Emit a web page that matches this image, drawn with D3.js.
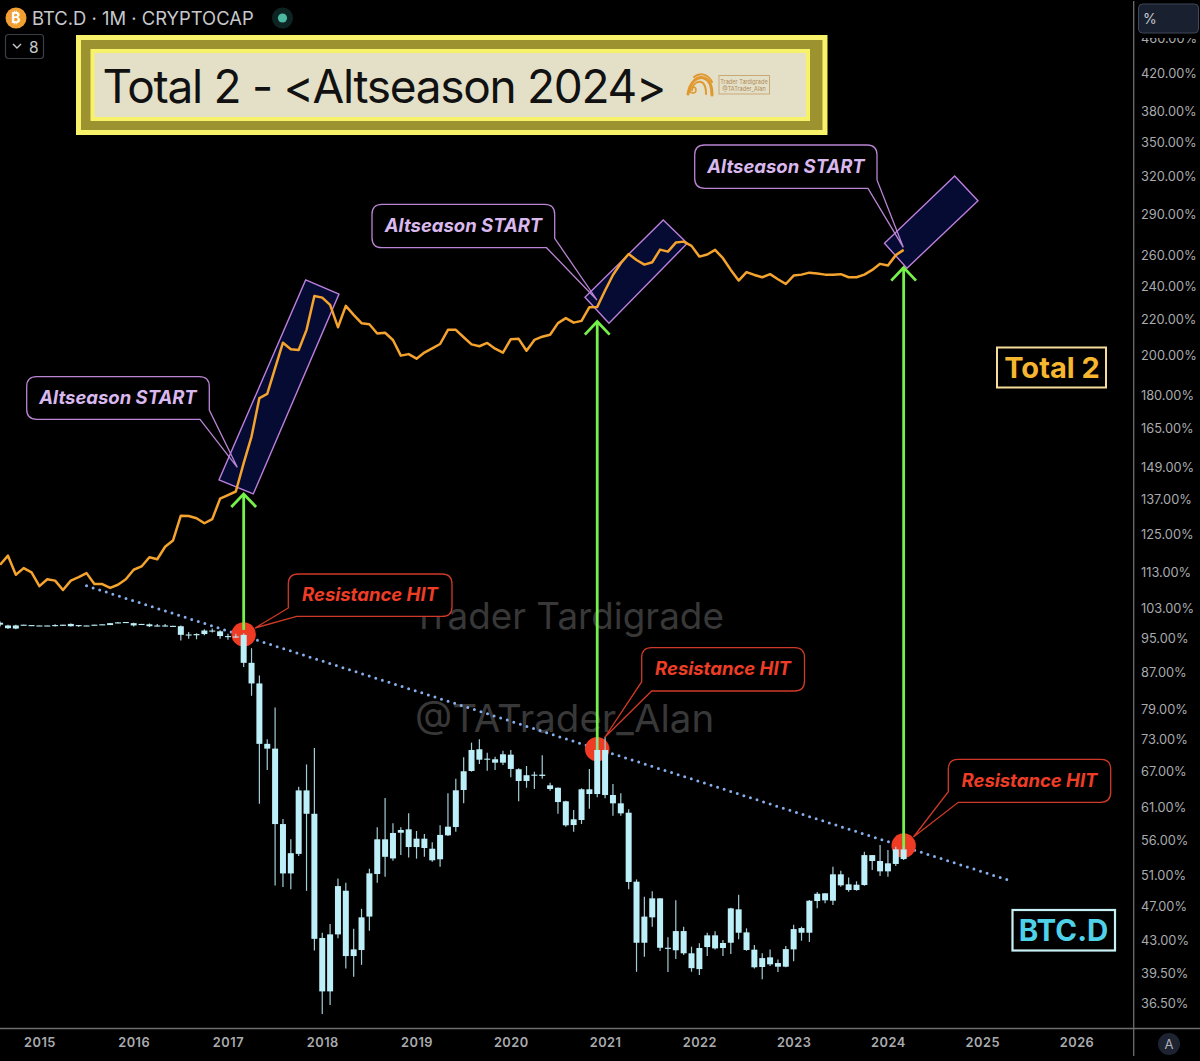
<!DOCTYPE html>
<html><head><meta charset="utf-8">
<script src="https://cdn.jsdelivr.net/npm/d3@7/dist/d3.min.js"></script>
<style>html,body{margin:0;padding:0;background:#000;overflow:hidden}svg{display:block}text{font-family:Inter,"Noto Sans",sans-serif}</style>
</head><body><svg id="c" width="1200" height="1061"></svg>
<script>
// month number: 0 = Jan 2015; first sample is Aug 2014
const firstMonth = -5;
const btcOpen = [98.6,98.4,98.4,98.6,98.5,98.4,98.4,98.5,98.3,98.8,98.5,98.4,98.4,98.6,98.5,99.2,99.2,99.0,98.8,98.7,98.4,98.4,98.3,98.2,96.0,95.9,96.2,97.1,96.9,95.7,95.6,96.0,89.2,84.5,72.1,71.2,58.4,51.3,54.0,63.8,60.0,43.3,37.63,43.71,49.02,41.29,41.95,45.8,51.22,56.11,53.36,57.09,57.6,54.98,56.2,54.74,53.24,56.7,57.95,63.87,67.14,71.08,69.16,69.24,68.62,70.08,67.45,65.4,66.4,66.5,64.66,64.25,62.0,58.25,59.03,63.99,63.2,70.95,63.03,61.67,60.17,50.2,42.76,45.71,48.05,42.2,41.92,44.09,41.59,39.9,42.28,43.6,42.17,42.76,46.68,43.94,41.99,40.12,41.15,40.54,40.15,42.02,43.9,43.9,47.71,48.69,47.75,51.18,49.11,49.11,49.76,53.83,53.0,51.58,52.59,54.65];
const btcHigh = [99.4,98.6,98.6,98.6,98.5,98.4,98.4,98.7,98.6,98.9,98.5,98.4,98.6,98.7,99.0,99.3,99.3,99.1,98.8,98.9,98.8,98.8,98.3,98.4,96.7,96.4,97.4,97.6,97.2,96.3,96.3,96.4,92.7,86.3,73.0,79.3,59.2,56.1,64.4,68.3,71.3,43.9,44.91,50.63,50.06,44.35,46.74,51.92,57.9,62.53,58.52,57.9,60.07,57.35,56.9,55.67,58.21,63.31,65.8,69.6,72.33,72.97,70.45,69.71,70.82,70.95,67.63,68.03,67.02,69.96,65.1,64.3,62.1,60.6,64.15,67.5,73.16,73.47,64.89,63.31,60.7,50.5,48.25,48.95,48.05,43.37,47.8,44.6,42.32,42.7,43.9,44.06,43.07,46.88,48.5,44.41,42.5,41.59,42.02,40.93,42.39,44.82,44.6,47.84,48.85,48.69,52.2,51.66,50.77,50.25,54.3,53.83,55.28,54.55,55.03,55.12];
const btcLow = [98.1,97.5,97.4,98.4,98.4,98.3,98.3,98.1,98.3,98.1,98.0,98.3,98.4,98.6,98.5,99.0,99.2,98.1,98.6,98.0,98.1,98.1,98.2,94.6,95.0,94.9,95.9,96.6,95.0,94.8,95.3,88.2,81.8,61.6,67.3,49.7,49.5,49.2,53.7,49.0,41.9,35.45,36.3,43.28,39.97,39.1,40.35,44.13,50.06,50.85,53.04,53.83,53.5,53.33,53.59,52.9,52.2,56.6,57.25,61.67,67.02,68.38,67.2,67.32,68.2,66.04,62.0,64.25,64.04,65.8,63.75,60.0,58.0,57.25,58.41,60.8,62.65,62.48,59.7,59.7,49.2,39.62,41.21,44.6,41.84,39.6,40.98,41.4,39.62,39.28,41.29,42.02,41.29,41.51,43.15,41.87,39.97,38.84,40.23,39.6,40.09,40.72,42.99,42.84,46.8,47.43,47.22,49.54,48.9,49.02,49.67,51.76,50.95,50.85,52.32,53.14];
const btcClose = [99.1,97.7,97.6,98.4,98.4,98.3,98.3,98.3,98.6,98.2,98.3,98.3,98.6,98.7,99.0,99.1,99.3,98.4,98.6,98.2,98.3,98.3,98.2,96.0,96.1,96.2,97.1,97.0,95.7,95.6,95.5,89.2,84.5,72.1,71.2,58.4,51.3,54.1,63.8,60.0,43.2,37.63,43.71,49.62,41.29,42.02,45.71,51.31,56.11,53.59,57.05,57.5,54.98,56.2,54.84,53.1,56.76,58.0,63.82,67.09,70.95,69.16,69.35,68.62,70.15,67.5,65.4,66.4,66.5,66.27,64.04,61.88,58.21,59.14,63.99,63.2,70.95,63.03,61.67,60.07,50.16,42.76,45.8,48.05,42.2,42.1,44.09,41.59,40.0,42.17,43.6,42.13,42.73,46.8,43.9,41.95,40.09,41.07,40.4,40.15,42.05,44.32,44.44,47.75,48.63,47.8,51.18,49.72,49.85,49.8,53.83,53.0,51.58,52.68,54.65,53.27];
const total2 = [115.4,118.2,112.4,114.4,113.1,109.1,111.1,110.7,108.0,110.7,111.7,112.9,109.7,109.7,108.6,109.5,111.1,113.9,114.9,117.7,117.1,121.0,123.0,131.3,131.2,130.4,128.7,130.1,137.3,138.6,139.9,150.7,161.6,178.8,180.8,193.4,206.8,203.3,202.9,213.9,233.8,232.8,228.4,215.4,227.8,222.5,217.7,217.1,211.9,212.3,208.3,199.9,200.7,198.3,201.5,203.8,206.1,213.9,213.9,209.8,205.9,204.9,206.7,203.6,201.5,208.7,208.9,202.5,208.3,210.1,211.2,217.7,220.6,218.0,219.0,227.0,227.2,237.2,247.1,254.8,261.1,257.0,253.9,255.5,264.1,262.7,269.0,269.7,266.7,259.3,260.7,263.9,258.2,250.4,243.5,248.9,247.1,245.6,247.6,244.3,241.3,246.7,247.3,248.6,248.0,247.3,247.3,247.6,245.6,245.6,247.3,250.4,254.4,253.3,260.3,263.9];
const yearMonths = [0,12,24,36,48,60,72,84,96,108,120,132];
const yearLabels = ["2015","2016","2017","2018","2019","2020","2021","2022","2023","2024","2025","2026"];
const priceTicks = [460,420,380,350,320,290,260,240,220,200,180,165,149,137,125,113,103,95,87,79,73,67,61,56,51,47,43,39.5,36.5];
const trendMonths = [6,123.2];
const trendValues = [109.2,50.45];
const hitMonths = [26,71,110];
const hitValues = [96.1,71.1,55.2];
const arrowTips = [139.0,218.6,251.9];
const arrowEnds = [97.25,70.95,54.7];
const channelMonths = [[33.89,38.13,27.22,22.86],[79.4,82.46,72.49,69.44],[116.49,119.46,110.42,107.56]];
const channelValues = [[243.9,235.0,139.0,144.2],[285.4,268.5,217.7,233.0],[320.5,300.3,251.5,268.5]];

const svg = d3.select("#c");
const x = d3.scaleLinear().domain([0,132]).range([39.4,1076.5]);
const y = d3.scaleLog().domain([36.5,420]).range([1003,73]);
const month = i => firstMonth + i;
const candles = btcOpen.map((o,i)=>({m:month(i),o,h:btcHigh[i],l:btcLow[i],c:btcClose[i]}));

// background watermarks
svg.append("text").attr("x",412).attr("y",629).attr("font-size",36.8).attr("fill","#383838").text("Trader Tardigrade");
svg.append("text").attr("x",415).attr("y",732).attr("font-size",38.5).attr("fill","#383838").text("@TATrader_Alan");

// channels
const channelG = svg.append("g");
channelG.selectAll("polygon").data(channelMonths).join("polygon")
  .attr("points",(d,i)=>d.map((m,j)=>[x(m),y(channelValues[i][j])].join(",")).join(" "))
  .attr("fill","#050b33").attr("stroke","#bd7fdc").attr("stroke-width",1.4);

// Total 2 line
svg.append("path").datum(total2)
  .attr("d",d3.line().x((d,i)=>x(month(i))).y(d=>y(d)))
  .attr("fill","none").attr("stroke","#f4a32e").attr("stroke-width",2.5).attr("stroke-linejoin","round");

// trend line
svg.append("path").datum(trendMonths)
  .attr("d",d3.line().x(d=>x(d)).y((d,i)=>y(trendValues[i])))
  .attr("stroke","#86aeea").attr("stroke-width",3).attr("stroke-dasharray","0 6.9").attr("stroke-linecap","round").attr("fill","none");

// hit circles
svg.selectAll("circle.hit").data(hitMonths).join("circle").attr("class","hit")
  .attr("cx",d=>x(d)).attr("cy",(d,i)=>y(hitValues[i])).attr("r",12.2).attr("fill","#ef3b24");

// green arrows
const arrows = svg.append("g").attr("stroke","#76f04a").attr("stroke-width",2.8).attr("fill","none");
hitMonths.forEach((m,i)=>{
  const px=x(m), t=y(arrowTips[i]), b=y(arrowEnds[i]);
  arrows.append("path").attr("d",d3.line()([[px,b],[px,t]]));
  arrows.append("path").attr("d",d3.line()([[px-12.4,t+13],[px,t],[px+12.4,t+13]]));
});

// candles
const cg = svg.append("g");
cg.selectAll("line").data(candles).join("line")
  .attr("x1",d=>x(d.m)).attr("x2",d=>x(d.m)).attr("y1",d=>y(d.h)).attr("y2",d=>y(d.l))
  .attr("stroke","#a3cdd5").attr("stroke-width",1.2);
cg.selectAll("rect").data(candles).join("rect")
  .attr("x",d=>x(d.m)-3).attr("width",6)
  .attr("y",d=>y(Math.max(d.o,d.c)))
  .attr("height",d=>Math.max(1.1,Math.abs(y(d.o)-y(d.c))))
  .attr("fill","#bdeff9");

// callouts
function callout(x0,y0,x1,y1,a,tip,b,stroke,fill,color,label,tx,ty){
  const r=10;
  let d;
  if(a[0]>=x1){ // tail leaves the right edge
    d=`M${x0+r},${y0}H${x1-r}Q${x1},${y0} ${x1},${y0+r}V${a[1]}L${tip[0]},${tip[1]}L${b[0]},${y1}H${x0+r}Q${x0},${y1} ${x0},${y1-r}V${y0+r}Q${x0},${y0} ${x0+r},${y0}Z`;
  } else { // tail leaves the left edge
    d=`M${x0+r},${y0}H${x1-r}Q${x1},${y0} ${x1},${y0+r}V${y1-r}Q${x1},${y1} ${x1-r},${y1}H${b[0]}L${tip[0]},${tip[1]}L${a[0]},${a[1]}V${y0+r}Q${x0},${y0} ${x0+r},${y0}Z`;
  }
  svg.append("path").attr("d",d).attr("fill",fill).attr("stroke",stroke).attr("stroke-width",1.3);
  svg.append("text").attr("x",tx).attr("y",ty).attr("text-anchor","middle").attr("font-size",18.5)
    .attr("font-weight",700).attr("font-style","italic").attr("fill",color).text(label);
}
const pS="#b985d4", pT="#d9b8ee", rS="#cf3a28", rT="#ee3d27";
callout(26.7,376.7,209.3,419.3,[209.3,410],[237.3,467.3],[200,419.3],pS,"none",pT,"Altseason START",118,404);
callout(372,204.3,554.7,247.7,[554.7,238.3],[597,300],[546.5,247.7],pS,"none",pT,"Altseason START",463.5,232);
callout(694.7,145,877,188.3,[877,180],[903.3,247.3],[868,188.3],pS,"none",pT,"Altseason START",786,173);
callout(288.3,574,452,616.4,[288.3,608],[255,628],[296.7,616.4],rS,"#000",rT,"Resistance HIT",370,601);
callout(641.7,647.7,804.5,691,[641.7,681.7],[605,737],[651.7,691],rS,"#000",rT,"Resistance HIT",723,675);
callout(948.3,759.3,1110.7,802.3,[948.3,791.7],[913.5,837],[958.3,802.3],rS,"#000",rT,"Resistance HIT",1029.5,787);

// Series tags
svg.append("rect").attr("x",997).attr("y",347.5).attr("width",109).attr("height",40).attr("fill","#000").attr("stroke","#f6dc9a").attr("stroke-width",2);
svg.append("text").attr("x",1052).attr("y",378).attr("text-anchor","middle").attr("font-size",29).attr("font-weight",700).attr("fill","#f6b62f").text("Total 2");
svg.append("rect").attr("x",1012.5).attr("y",910).attr("width",102.5).attr("height",40.5).attr("fill","#000").attr("stroke","#c8f1f6").attr("stroke-width",2.2);
svg.append("text").attr("x",1063.5).attr("y",941).attr("text-anchor","middle").attr("font-size",29.5).attr("font-weight",700).attr("fill","#4fd2e8").text("BTC.D");

// title banner
svg.append("rect").attr("x",78.5).attr("y",37.5).attr("width",746.5).attr("height",95).attr("fill","#9c9330").attr("stroke","#f8f26a").attr("stroke-width",5);
svg.append("rect").attr("x",92.5).attr("y",51).attr("width",715.5).attr("height",68).attr("fill","#e4e0c8").attr("stroke","#f8f26a").attr("stroke-width",4);
svg.append("text").attr("x",102.5).attr("y",103).attr("font-size",46).attr("letter-spacing",-1.3).attr("fill","#111").text("Total 2 - <Altseason 2024>");
const logo=svg.append("g").attr("fill","none").attr("stroke","#e0982f").attr("stroke-linecap","round");
logo.append("path").attr("d","M688,94 C690,82 697,76 704,78 C710,80 712,88 712,95").attr("stroke-width",3);
logo.append("path").attr("d","M692,90 C693,83 699,80 703,83 C706,86 706,90 706,94").attr("stroke-width",2);
logo.append("path").attr("d","M694,77 C700,72 708,74 712,82").attr("stroke-width",2);
logo.append("circle").attr("cx",693).attr("cy",90).attr("r",3).attr("stroke-width",1.5);
svg.append("rect").attr("x",719).attr("y",75.5).attr("width",50.5).attr("height",18.5).attr("fill","none").attr("stroke","#c9a878").attr("stroke-width",1);
svg.append("text").attr("x",744).attr("y",83.5).attr("text-anchor","middle").attr("font-size",5.6).attr("fill","#b08a55").text("Trader Tardigrade");
svg.append("text").attr("x",744).attr("y",91).attr("text-anchor","middle").attr("font-size",5.6).attr("fill","#b08a55").text("@TATrader_Alan");

// header
svg.append("circle").attr("cx",16).attr("cy",18).attr("r",10.5).attr("fill","#f0a033");
svg.append("text").attr("x",16).attr("y",23).attr("text-anchor","middle").attr("font-size",14).attr("font-weight",700).attr("fill","#fff").text("₿");
svg.append("text").attr("x",32).attr("y",24.5).attr("font-size",18.4).attr("fill","#c6c8cc").text("BTC.D · 1M · CRYPTOCAP");
svg.append("circle").attr("cx",282.5).attr("cy",18).attr("r",10.5).attr("fill","#0e2422");
svg.append("circle").attr("cx",282.5).attr("cy",18).attr("r",4.6).attr("fill","#4cb8a2");
svg.append("rect").attr("x",5.5).attr("y",34.5).attr("width",38).attr("height",24).attr("rx",3).attr("fill","none").attr("stroke","#3a3e47").attr("stroke-width",1.2);
svg.append("path").attr("d","M13,44 L17,48 L21,44").attr("fill","none").attr("stroke","#c6c8cc").attr("stroke-width",1.4);
svg.append("text").attr("x",29).attr("y",53).attr("font-size",15.5).attr("fill","#c6c8cc").text("8");

// axes
const priceAxis = d3.axisRight(y).tickValues(priceTicks).tickSize(0).tickPadding(0).tickFormat(d=>d3.format(".2f")(d)+"%");
const pa = svg.append("g").attr("transform","translate(1141,0)").call(priceAxis);
pa.select(".domain").remove();
pa.selectAll("text").attr("font-size",12.8).attr("fill","#a9abae").attr("font-family","Inter,sans-serif");
const timeAxis = d3.axisBottom(x).tickValues(yearMonths).tickSize(0).tickPadding(0).tickFormat((d,i)=>yearLabels[i]);
const ta = svg.append("g").attr("transform","translate(0,1037.5)").call(timeAxis);
ta.select(".domain").remove();
ta.selectAll("text").attr("font-size",12.8).attr("font-weight",600).attr("fill","#a9abae").attr("font-family","Inter,sans-serif").attr("letter-spacing","0.5");

svg.append("rect").attr("x",1135).attr("y",0).attr("width",65).attr("height",38).attr("fill","#000");
svg.append("rect").attr("x",1138.5).attr("y",4).attr("width",60).attr("height",29).attr("rx",4).attr("fill","#19202f").attr("stroke","#3f4759").attr("stroke-width",1);
svg.append("text").attr("x",1143).attr("y",24).attr("font-size",14).attr("fill","#c6c8cc").text("%");
svg.append("line").attr("x1",1133.7).attr("x2",1133.7).attr("y1",1).attr("y2",1056).attr("stroke","#6e6e6e").attr("stroke-width",1.3);
svg.append("line").attr("x1",0).attr("x2",1200).attr("y1",1028.5).attr("y2",1028.5).attr("stroke","#6e6e6e").attr("stroke-width",1.3);
svg.append("circle").attr("cx",1169).attr("cy",1044).attr("r",11).attr("fill","#1d2330");
svg.append("text").attr("x",1169).attr("y",1049).attr("text-anchor","middle").attr("font-size",13).attr("fill","#b0b3b8").text("A");
</script></body></html>
